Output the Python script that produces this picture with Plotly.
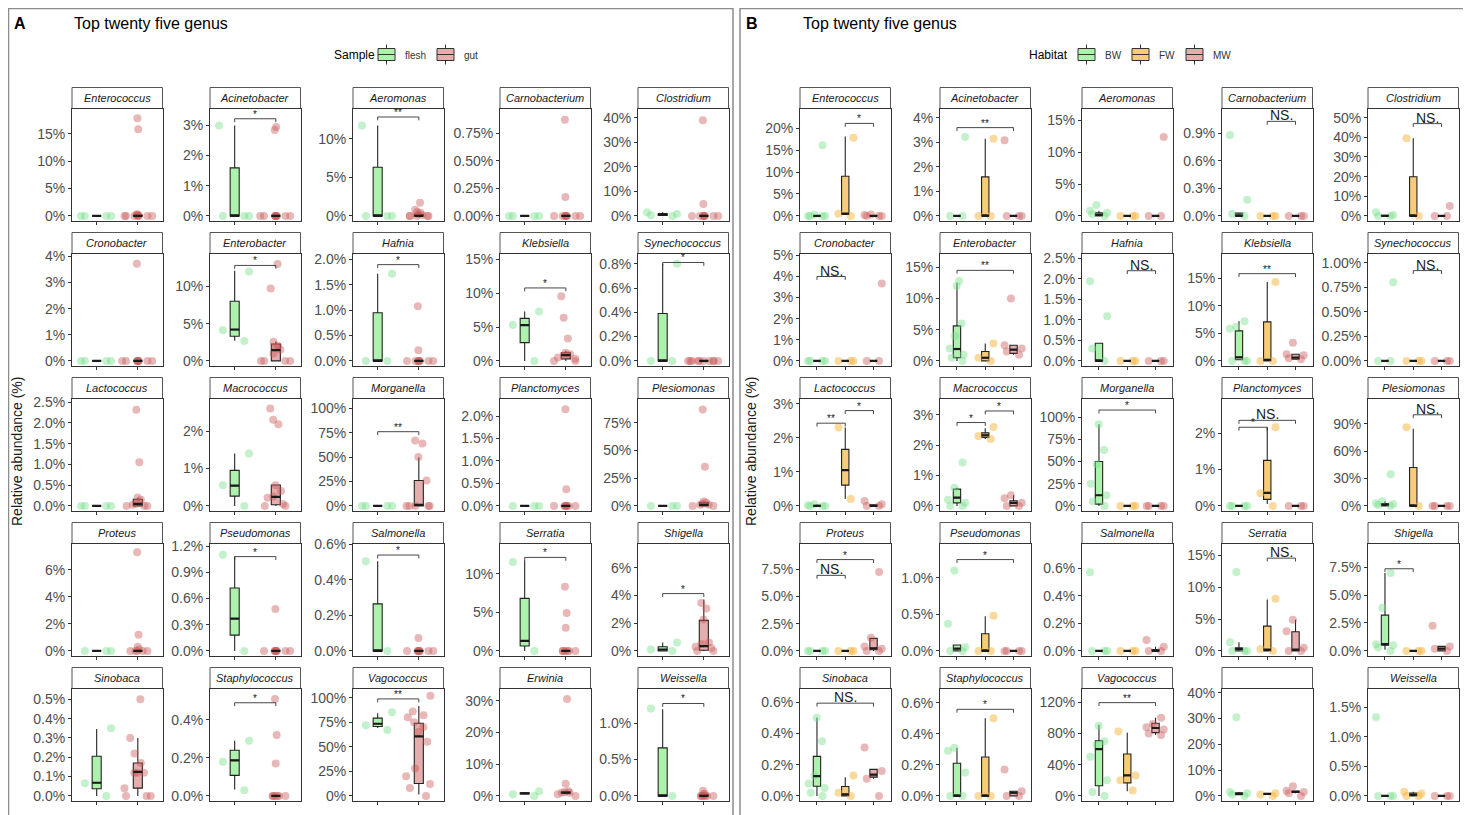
import plotly.graph_objects as go

# page body keeps an 8px margin, so the figure is drawn 8px smaller and shifted
OFF = 8
W, H = 1471, 815
FW_, FH_ = W - OFF, H - OFF

# ---------------- data ----------------
genus_A = ["Enterococcus", "Acinetobacter", "Aeromonas", "Carnobacterium", "Clostridium",
           "Cronobacter", "Enterobacter", "Hafnia", "Klebsiella", "Synechococcus",
           "Lactococcus", "Macrococcus", "Morganella", "Planctomyces", "Plesiomonas",
           "Proteus", "Pseudomonas", "Salmonella", "Serratia", "Shigella",
           "Sinobaca", "Staphylococcus", "Vagococcus", "Erwinia", "Weissella"]
genus_B = ["Enterococcus", "Acinetobacter", "Aeromonas", "Carnobacterium", "Clostridium",
           "Cronobacter", "Enterobacter", "Hafnia", "Klebsiella", "Synechococcus",
           "Lactococcus", "Macrococcus", "Morganella", "Planctomyces", "Plesiomonas",
           "Proteus", "Pseudomonas", "Salmonella", "Serratia", "Shigella",
           "Sinobaca", "Staphylococcus", "Vagococcus", "", "Weissella"]

# y-axis upper limit (%), tick step (%), decimals of tick labels
ytop_A = [19.6, 3.56, 13.9, 0.973, 43.8, 4.11, 14.4, 2.12, 15.9, 0.884,
          2.59, 2.87, 110, 2.39, 96.8, 7.95, 1.23, 0.605, 13.9, 7.74,
          0.556, 0.565, 109.3, 33.9, 1.476]
ystep_A = [5, 1, 5, 0.25, 10, 1, 5, 0.5, 5, 0.2,
           0.5, 1, 25, 0.5, 25, 2, 0.3, 0.2, 5, 2,
           0.1, 0.2, 25, 10, 0.5]
ydec_A = [0, 0, 0, 2, 0, 0, 0, 1, 0, 1,
          1, 0, 0, 1, 0, 0, 1, 1, 0, 0,
          1, 1, 0, 0, 1]

ytop_B = [24.5, 4.38, 16.9, 1.17, 54.7, 5.09, 17.2, 2.62, 19.45, 1.094,
          3.155, 3.53, 121, 2.95, 117.6, 9.88, 1.47, 0.778, 16.9, 9.61,
          0.688, 0.691, 137.6, 41.6, 1.816]
ystep_B = [5, 1, 5, 0.3, 10, 1, 5, 0.5, 5, 0.25,
           1, 1, 25, 1, 30, 2.5, 0.5, 0.2, 5, 2.5,
           0.2, 0.2, 40, 10, 0.5]
ydec_B = [0, 0, 0, 1, 0, 0, 0, 1, 0, 2,
          0, 0, 0, 0, 0, 1, 1, 1, 0, 1,
          1, 1, 0, 0, 1]

# sample points, relative abundance (%)
pts_A_flesh = [
    [0, 0, 0, 0], [3.0, 0, 0, 0], [11.7, 0, 0, 0], [0, 0, 0, 0], [1.5, 0.8, 0.3, 0],
    [0, 0, 0, 0], [12.0, 4.1, 2.65], [1.72, 0, 0], [7.3, 5.3, 0], [0.8, 0, 0],
    [0, 0, 0, 0], [1.4, 0.55, 0], [0, 0, 0, 0], [0, 0, 0], [0, 0, 0],
    [0, 0, 0], [1.1, 0], [0.505, 0], [11.5, 0], [0.6, 0.1, 0],
    [0.35, 0.065, 0], [0.29, 0.18, 0.03], [85, 72, 67], [1.5, 0.5, 0], [1.2, 0]]
pts_A_gut = [
    [17.8, 15.8, 0.3, 0.2, 0.1, 0, 0, 0, 0, 0, 0, 0],
    [2.85, 2.95, 0, 0, 0, 0, 0, 0, 0, 0, 0],
    [1.7, 0.8, 0.5, 0.4, 0.2, 0.1, 0, 0, 0, 0, 0],
    [0.87, 0.17, 0, 0, 0, 0, 0, 0, 0, 0],
    [39, 4.8, 0, 0, 0, 0, 0, 0, 0, 0],
    [3.72, 0, 0, 0, 0, 0, 0, 0, 0, 0],
    [13.0, 9.7, 2.56, 2.0, 1.8, 1.5, 1.0, 0, 0, 0, 0],
    [1.08, 0.21, 0, 0, 0, 0, 0, 0, 0, 0],
    [9.57, 6.37, 3.33, 1.2, 1.0, 0.8, 0.5, 0.3, 0, 0],
    [0, 0, 0, 0, 0, 0, 0, 0, 0, 0],
    [2.32, 1.05, 0.2, 0.15, 0.05, 0.03, 0, 0, 0],
    [2.6, 2.3, 2.18, 0.55, 0.4, 0.25, 0.22, 0.05, 0, 0],
    [64, 67, 50, 26, 0, 0, 0, 0, 0],
    [2.15, 0.37, 0, 0, 0, 0, 0, 0, 0],
    [86.9, 35.2, 4, 3, 2, 1, 1, 0, 0],
    [7.3, 1.2, 0.3, 0.1, 0, 0, 0, 0, 0],
    [0.48, 0, 0, 0, 0, 0, 0, 0, 0],
    [0.073, 0, 0, 0, 0, 0, 0, 0, 0],
    [8.3, 4.9, 3.0, 0, 0, 0, 0, 0, 0],
    [3.46, 3.05, 2.27, 0.6, 0.5, 0.3, 0.2, 0, 0],
    [0.5, 0.3, 0.22, 0.17, 0.12, 0.12, 0.12, 0.04, 0, 0, 0],
    [0.51, 0.32, 0.17, 0, 0, 0, 0, 0, 0],
    [102, 86, 82, 80, 75, 70, 65, 55, 28, 20, 12, 8, 0],
    [30.6, 3.8, 1.5, 1.2, 1, 1, 0.5, 0],
    [0.07, 0.03, 0.02, 0, 0, 0, 0, 0, 0]]

# box statistics: [lower whisker, q1, median, q3, upper whisker]
box_A_flesh = [
    [0, 0, 0, 0, 0], [0, 0, 0, 1.59, 3.0], [0, 0, 0, 6.3, 11.7], [0, 0, 0, 0, 0], [0, 0.2, 0.5, 1.0, 1.5],
    [0, 0, 0, 0, 0], [2.7, 3.3, 4.2, 8.0, 12.1], [0, 0, 0, 0.95, 1.72], [0, 2.7, 5.3, 6.3, 7.3], [0, 0, 0, 0.39, 0.8],
    [0, 0, 0, 0, 0], [0, 0.26, 0.54, 0.95, 1.4], [0, 0, 0, 0, 0], [0, 0, 0, 0, 0], [0, 0, 0, 0, 0],
    [0, 0, 0, 0, 0], [0, 0.18, 0.37, 0.72, 1.08], [0, 0, 0, 0.265, 0.505], [0, 0.63, 1.3, 6.8, 11.7], [0, 0, 0.1, 0.3, 0.6],
    [0, 0.037, 0.068, 0.205, 0.346], [0.033, 0.108, 0.187, 0.24, 0.29], [69, 70.6, 73.4, 79.1, 84], [0.5, 0.6, 0.8, 1.0, 1.2], [0, 0, 0, 0.66, 1.19]]
box_A_gut = [
    [0, 0, 0, 0.1, 0.25], [0, 0, 0, 0, 0], [0, 0, 0, 0.2, 0.5], [0, 0, 0, 0, 0], [0, 0, 0, 0, 0],
    [0, 0, 0, 0, 0], [0, 0, 1.45, 2.26, 2.6], [0, 0, 0, 0, 0], [0, 0.3, 0.85, 1.2, 1.5], [0, 0, 0, 0, 0],
    [0, 0, 0.05, 0.16, 0.2], [0, 0.03, 0.24, 0.56, 0.56], [0, 0, 1, 26, 49.5], [0, 0, 0, 0, 0], [0, 0, 1, 2.9, 4],
    [0, 0, 0, 0, 0], [0, 0, 0, 0, 0], [0, 0, 0, 0, 0], [0, 0, 0, 0, 0], [0, 0.05, 0.35, 2.2, 3.7],
    [0, 0.04, 0.124, 0.17, 0.30], [0, 0, 0, 0, 0], [1.4, 12.6, 60.5, 74, 91.6], [0.5, 0.8, 1.0, 1.3, 1.6], [0, 0, 0, 0.02, 0.03]]

pts_B_BW = [
    [16.1, 0.3, 0, 0, 0, 0], [3.22, 0, 0], [1.7, 0.8, 0.5, 0.3, 0], [0.88, 0.177, 0.02, 0], [1.8, 0.5, 0, 0],
    [0, 0, 0, 0], [12.8, 12.0, 6, 4, 2, 1, 0.5, 0], [1.94, 1.09, 0.3, 0], [7.2, 6.2, 5.8, 0, 0, 0], [0.8, 0, 0],
    [0.05, 0.02, 0, 0, 0], [1.43, 0.6, 0.2, 0.1, 0, 0], [92, 63, 47, 25, 12, 5, 0], [0, 0, 0, 0], [34.7, 5, 3, 2, 1, 0],
    [0, 0, 0, 0], [1.1, 0.37, 0.05, 0, 0], [0.57, 0, 0, 0], [12.4, 1.35, 0, 0, 0], [6.96, 3.85, 0.6, 0.5, 0.3, 0],
    [0.5, 0.35, 0.13, 0.08, 0.05, 0.02, 0], [0.31, 0.29, 0.15, 0, 0], [90, 70, 65, 50, 20, 5, 0], [30.5, 1.5, 1, 0.5, 0], [1.33, 0, 0, 0]]
pts_B_FW = [
    [17.8, 0.5, 0], [3.15, 0, 0], [0, 0, 0], [0, 0, 0], [39.5, 0],
    [0, 0, 0], [2.8, 0.5, 0], [0, 0, 0], [14.3, 0, 0], [0, 0, 0],
    [2.3, 0.2], [2.59, 2.2, 2.3], [0, 0, 0], [2.16, 0.35, 0], [86, 0],
    [0, 0, 0], [0.48, 0, 0], [0, 0, 0], [8.2, 0.3, 0], [0, 0, 0],
    [0.13, 0.02, 0], [0.5, 0, 0], [82.5, 26, 20, 6.9], [1, 0.5, 0], [0.07, 0.04, 0, 0]]
pts_B_MW = [
    [0.3, 0.2, 0, 0, 0], [3.09, 0, 0, 0], [12.4, 0, 0], [0, 0, 0], [5.0, 0, 0],
    [3.67, 0, 0], [10, 2.5, 2, 1.5, 1.0], [0, 0, 0], [3.28, 1.2, 1.0, 0.5, 0.3], [0, 0, 0],
    [0.14, 0.05, 0, 0], [0.35, 0.25, 0.1, 0, 0], [0, 0, 0, 0], [0, 0, 0], [0, 0, 0, 0],
    [7.25, 1.2, 0.4, 0.2, 0, 0], [0, 0, 0, 0], [0.079, 0.03, 0, 0], [4.9, 3.1, 0.5, 0, 0], [2.25, 0.4, 0.2, 0],
    [0.31, 0.16, 0.11, 0], [0.17, 0.03, 0, 0], [100, 92, 88, 85, 80, 78], [3.7, 2, 1.5, 1, 0], [0, 0, 0]]

box_B_BW = [
    [0, 0, 0, 0, 0], [0, 0, 0, 0, 0], [0, 0, 0.2, 0.5, 0.8], [0, 0, 0, 0.03, 0.03], [0, 0, 0, 0.3, 0.5],
    [0, 0, 0, 0, 0], [0, 0.5, 1.9, 5.6, 12.5], [0, 0, 0, 0.43, 0.43], [0.2, 0.2, 0.65, 5.44, 7.2], [0, 0, 0, 0, 0],
    [0, 0, 0, 0.02, 0.05], [0, 0.1, 0.27, 0.55, 0.6], [0, 2, 12, 50, 92], [0, 0, 0, 0, 0], [0, 0, 1.5, 2.5, 5],
    [0, 0, 0, 0, 0], [0, 0, 0.03, 0.08, 0.08], [0, 0, 0, 0, 0], [0, 0, 0.3, 0.5, 1.35], [0.1, 0.52, 0.6, 3.2, 6.96],
    [0, 0.062, 0.126, 0.253, 0.5], [0, 0, 0, 0.21, 0.31], [0, 13, 60, 70.6, 91], [0.5, 0.5, 0.8, 1.2, 1.5], [0, 0, 0, 0, 0]]
box_B_FW = [
    [0.3, 0.3, 0.5, 9.05, 18.1], [0, 0, 0, 1.59, 3.15], [0, 0, 0, 0, 0], [0, 0, 0, 0, 0], [0, 0, 0, 19.9, 39.5],
    [0, 0, 0, 0, 0], [0, 0, 0.5, 1.5, 2.8], [0, 0, 0, 0, 0], [0, 0, 0.2, 7.06, 14.3], [0, 0, 0, 0, 0],
    [0.2, 0.61, 1.05, 1.66, 2.3], [2.2, 2.25, 2.32, 2.4, 2.55], [0, 0, 0, 0, 0], [0.05, 0.18, 0.36, 1.25, 2.16], [0, 0, 0, 42, 84.5],
    [0, 0, 0, 0, 0], [0, 0, 0, 0.235, 0.475], [0, 0, 0, 0, 0], [0, 0, 0.2, 3.9, 8.07], [0, 0, 0, 0, 0],
    [0, 0, 0.01, 0.06, 0.12], [0, 0, 0, 0.25, 0.5], [6, 16.7, 26.4, 53.7, 81], [0.5, 0.6, 0.8, 0.9, 1], [0, 0, 0.02, 0.05, 0.07]]
box_B_MW = [
    [0, 0, 0, 0.1, 0.2], [0, 0, 0, 0, 0], [0, 0, 0, 0, 0], [0, 0, 0, 0, 0], [0, 0, 0, 0, 0],
    [0, 0, 0, 0, 0], [1.0, 1.2, 1.8, 2.5, 2.5], [0, 0, 0, 0, 0], [0.3, 0.3, 0.6, 1.19, 1.2], [0, 0, 0, 0, 0],
    [0, 0, 0, 0.03, 0.05], [0, 0, 0.1, 0.17, 0.35], [0, 0, 0, 0, 0], [0, 0, 0, 0, 0], [0, 0, 0, 0, 0],
    [0, 0.1, 0.24, 1.15, 1.2], [0, 0, 0, 0, 0], [0, 0, 0, 0.01, 0.03], [0, 0, 0.2, 3.0, 4.9], [0, 0, 0.2, 0.4, 0.4],
    [0.11, 0.12, 0.136, 0.17, 0.17], [0, 0, 0.02, 0.03, 0.03], [78, 81, 87, 93, 100], [1, 1.3, 1.6, 1.9, 2], [0, 0, 0, 0, 0]]

# significance brackets: (facet, group from, group to, height %, label)
sig_A = [(1, 0, 1, 3.22, "*"), (2, 0, 1, 12.8, "**"), (6, 0, 1, 12.8, "*"), (7, 0, 1, 1.9, "*"),
         (8, 0, 1, 10.8, "*"), (9, 0, 1, 0.81, "*"), (12, 0, 1, 76, "**"), (16, 0, 1, 1.08, "*"),
         (17, 0, 1, 0.54, "*"), (18, 0, 1, 12.1, "*"), (19, 0, 1, 4.13, "*"), (21, 0, 1, 0.49, "*"),
         (22, 0, 1, 98.7, "**"), (24, 0, 1, 1.27, "*")]
sig_B = [(0, 1, 2, 21.1, "*"), (1, 0, 2, 3.6, "**"), (3, 1, 2, 1.03, "NS."), (4, 1, 2, 47, "NS."),
         (5, 0, 1, 4.0, "NS."), (6, 0, 2, 14.5, "**"), (7, 1, 2, 2.2, "NS."), (8, 0, 2, 15.8, "**"),
         (9, 1, 2, 0.92, "NS."), (10, 0, 1, 2.43, "**"), (10, 1, 2, 2.8, "*"), (11, 0, 1, 2.74, "*"),
         (11, 1, 2, 3.12, "*"), (12, 0, 2, 108, "*"), (13, 0, 1, 2.16, "*"), (13, 0, 2, 2.35, "NS."),
         (14, 1, 2, 99.8, "NS."), (15, 0, 1, 6.95, "NS."), (15, 0, 2, 8.4, "*"), (16, 0, 2, 1.25, "*"),
         (18, 1, 2, 14.6, "NS."), (19, 0, 1, 7.35, "*"), (20, 0, 2, 0.594, "NS."), (21, 0, 2, 0.557, "*"),
         (22, 0, 2, 119.5, "**")]

groups_A = ["flesh", "gut"]
groups_B = ["BW", "FW", "MW"]

# ---------------- style ----------------
FONT = "Liberation Sans, Arial, sans-serif"
GREEN = ("rgba(144,238,144,0.75)", "rgba(120,225,140,0.45)")
RED = ("rgba(205,92,92,0.5)", "rgba(200,85,85,0.42)")
ORANGE = ("rgba(247,195,95,0.85)", "rgba(245,180,60,0.5)")

colL_A = [72, 210, 353, 500, 638]
colL_B = [800, 940, 1082, 1222, 1368]
rowT = [108.5, 253.5, 398.5, 543.5, 688.5]
PW, PH, SH = 90.5, 112.5, 21


def fx(x):
    return (x - OFF) / FW_


def fy(y):
    return 1 - (y - OFF) / FH_


fig = go.Figure()
shapes = []
annotations = []

panels = [
    dict(genus=genus_A, ytop=ytop_A, ystep=ystep_A, ydec=ydec_A, names=groups_A,
         pts=[pts_A_flesh, pts_A_gut], box=[box_A_flesh, box_A_gut], colors=[GREEN, RED],
         cols=colL_A, sig=sig_A, offset=0, bw=0.22, jw=0.9,
         leg_title="Sample", leg_x=332, leg_icons=[378, 437]),
    dict(genus=genus_B, ytop=ytop_B, ystep=ystep_B, ydec=ydec_B, names=groups_B,
         pts=[pts_B_BW, pts_B_FW, pts_B_MW], box=[box_B_BW, box_B_FW, box_B_MW],
         colors=[GREEN, ORANGE, RED], cols=colL_B, sig=sig_B, offset=25, bw=0.26, jw=0.75,
         leg_title="Habitat", leg_x=1027, leg_icons=[1078, 1132, 1186]),
]

for P in panels:
    ng = len(P["names"])
    for k in range(25):
        r, c = divmod(k, 5)
        n = P["offset"] + k + 1
        xa = "x" if n == 1 else f"x{n}"
        ya = "y" if n == 1 else f"y{n}"
        left = P["cols"][c]
        top = rowT[r]
        T = P["ytop"][k]
        med_x, med_y = [], []
        for g in range(ng):
            b = P["box"][g][k]
            fill, ptc = P["colors"][g]
            fig.add_trace(go.Box(
                x=[g], lowerfence=[b[0]], q1=[b[1]], median=[b[2]], q3=[b[3]], upperfence=[b[4]],
                width=P["bw"], whiskerwidth=0, fillcolor=fill,
                line=dict(color="#222222", width=1.1), boxpoints=False,
                name=P["names"][g], showlegend=False, xaxis=xa, yaxis=ya, hoverinfo="skip"))
            pts = P["pts"][g][k]
            fig.add_trace(go.Box(
                x=[g] * len(pts), y=pts, boxpoints="all", jitter=1, pointpos=0,
                width=P["jw"], fillcolor="rgba(0,0,0,0)",
                line=dict(color="rgba(0,0,0,0)", width=0),
                marker=dict(color=ptc, size=8, line=dict(width=0)),
                name=P["names"][g], showlegend=False, xaxis=xa, yaxis=ya, hoverinfo="y"))
            med_x += [g - P["bw"] / 2, g + P["bw"] / 2, None]
            med_y += [b[2], b[2], None]
        # thick median bars (ggplot draws medians heavier than the box outline)
        fig.add_trace(go.Scatter(x=med_x, y=med_y, mode="lines",
                                 line=dict(color="#1A1A1A", width=2.2),
                                 showlegend=False, hoverinfo="skip", xaxis=xa, yaxis=ya))
        axx = dict(domain=[fx(left), fx(left + PW)], range=[-0.6, ng - 0.4],
                   tickvals=list(range(ng)), showticklabels=False, ticks="outside",
                   ticklen=3, tickcolor="#333333", showline=True, mirror=True,
                   linecolor="#333333", linewidth=1, showgrid=False, zeroline=False,
                   anchor=ya, fixedrange=True, automargin=False)
        axy = dict(domain=[fy(top + PH), fy(top)], range=[-T * 0.05 / 1.05, T],
                   tick0=0, dtick=P["ystep"][k], tickformat=f".{P['ydec'][k]}f",
                   ticksuffix="%", ticks="outside", ticklen=3, tickcolor="#333333",
                   tickfont=dict(size=14, color="#4D4D4D", family=FONT),
                   showline=True, mirror=True, linecolor="#333333", linewidth=1,
                   showgrid=False, zeroline=False, anchor=xa, fixedrange=True, automargin=False)
        fig.layout["xaxis" if n == 1 else f"xaxis{n}"] = axx
        fig.layout["yaxis" if n == 1 else f"yaxis{n}"] = axy
        # strip
        shapes.append(dict(type="rect", xref="paper", yref="paper",
                           x0=fx(left), x1=fx(left + PW), y0=fy(top), y1=fy(top - SH),
                           line=dict(color="#555555", width=1), fillcolor="white", layer="below"))
        if P["genus"][k]:
            annotations.append(dict(xref="paper", yref="paper", x=fx(left + PW / 2),
                                    y=fy(top - SH / 2), text=f"<i>{P['genus'][k]}</i>",
                                    showarrow=False, xanchor="center", yanchor="middle",
                                    font=dict(size=11, color="#1A1A1A", family=FONT)))
    # significance brackets
    for (k, g1, g2, yb, lab) in P["sig"]:
        n = P["offset"] + k + 1
        xa = "x" if n == 1 else f"x{n}"
        ya = "y" if n == 1 else f"y{n}"
        tip = 0.03 * P["ytop"][k] * 1.05
        shapes.append(dict(type="path", xref=xa, yref=ya,
                           path=f"M {g1},{yb - tip} L {g1},{yb} L {g2},{yb} L {g2},{yb - tip}",
                           line=dict(color="#333333", width=0.9)))
        ns = lab.startswith("NS")
        annotations.append(dict(xref=xa, yref=ya, x=(g1 + g2) / 2, y=yb, text=lab,
                                showarrow=False, xanchor="center", yanchor="bottom",
                                yshift=-4 if ns else -3,
                                font=dict(size=14 if ns else 10, color="#1A1A1A", family=FONT)))
    # legend (ggplot-style key: title, box glyphs, labels)
    annotations.append(dict(xref="paper", yref="paper", x=fx(P["leg_x"]), y=fy(55),
                            text=P["leg_title"], showarrow=False, xanchor="left", yanchor="middle",
                            font=dict(size=12, color="black", family=FONT)))
    for g, ix in enumerate(P["leg_icons"]):
        fill = P["colors"][g][0]
        cx = ix + 8.5
        shapes.append(dict(type="rect", xref="paper", yref="paper", x0=fx(ix), x1=fx(ix + 17),
                           y0=fy(60.5), y1=fy(48.5), fillcolor=fill,
                           line=dict(color="#333333", width=1)))
        for y0, y1 in [(48.5, 44.5), (60.5, 64.5), (54.5, 54.5)]:
            if y0 == y1:
                shapes.append(dict(type="line", xref="paper", yref="paper", x0=fx(ix), x1=fx(ix + 17),
                                   y0=fy(y0), y1=fy(y1), line=dict(color="#333333", width=1)))
            else:
                shapes.append(dict(type="line", xref="paper", yref="paper", x0=fx(cx), x1=fx(cx),
                                   y0=fy(y0), y1=fy(y1), line=dict(color="#333333", width=1)))
        annotations.append(dict(xref="paper", yref="paper", x=fx(ix + 25), y=fy(55),
                                text=P["names"][g], showarrow=False, xanchor="left", yanchor="middle",
                                font=dict(size=10, color="#333333", family=FONT)))

# panel frames
for x0, x1 in [(8.5, 733), (740, 1465)]:
    shapes.append(dict(type="rect", xref="paper", yref="paper", x0=fx(x0), x1=fx(x1),
                       y0=fy(830), y1=fy(8.5), line=dict(color="#8C8C8C", width=1.5),
                       fillcolor="rgba(0,0,0,0)", layer="below"))

# titles and axis labels
for xl, xt, lab in [(12, 72, "A"), (744, 801, "B")]:
    annotations.append(dict(xref="paper", yref="paper", x=fx(xl), y=fy(24), text=f"<b>{lab}</b>",
                            showarrow=False, xanchor="left", yanchor="middle",
                            font=dict(size=16, color="black", family=FONT)))
    annotations.append(dict(xref="paper", yref="paper", x=fx(xt), y=fy(24),
                            text="Top twenty five genus", showarrow=False, xanchor="left",
                            yanchor="middle", font=dict(size=16, color="black", family=FONT)))
for xc in [17, 751]:
    annotations.append(dict(xref="paper", yref="paper", x=fx(xc), y=fy(452),
                            text="Relative abundance (%)", textangle=-90, showarrow=False,
                            xanchor="center", yanchor="middle",
                            font=dict(size=14, color="#1A1A1A", family=FONT)))

fig.update_layout(
    width=FW_, height=FH_, margin=dict(l=0, r=0, t=0, b=0, pad=0, autoexpand=False),
    paper_bgcolor="white", plot_bgcolor="white", boxmode="overlay", showlegend=False,
    font=dict(family=FONT), shapes=shapes, annotations=annotations,
)

fig.write_html("out.html")
